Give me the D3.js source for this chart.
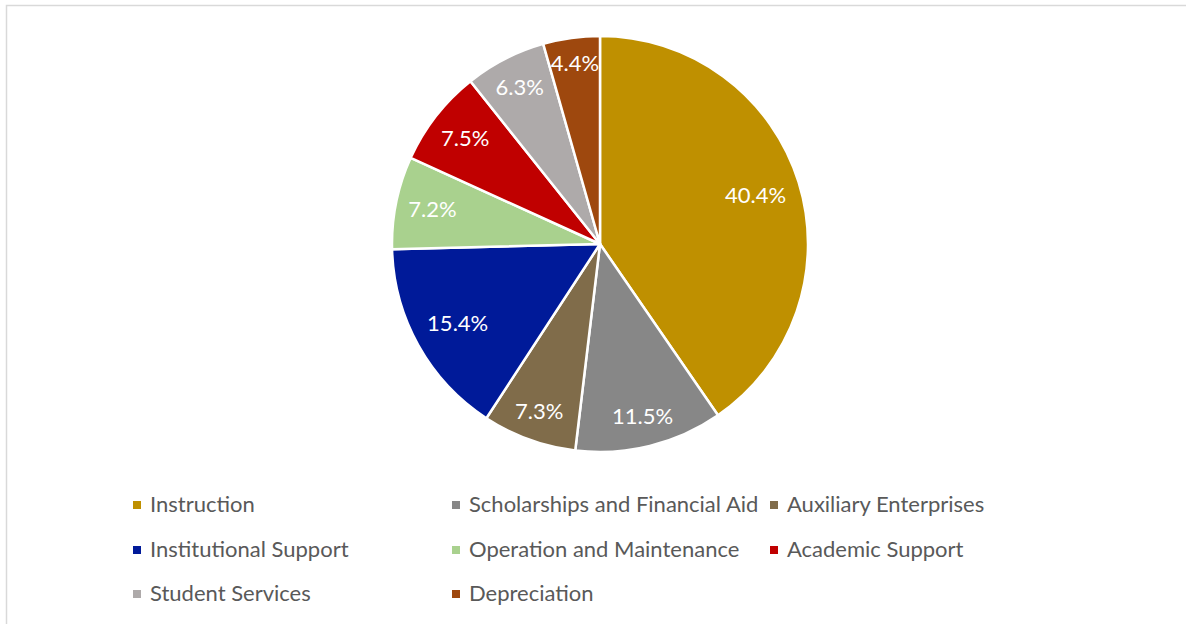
<!DOCTYPE html>
<html>
<head>
<meta charset="utf-8">
<script src="https://cdn.jsdelivr.net/npm/d3@7"></script>
<style>
  html, body { margin: 0; padding: 0; background: #fff; }
  svg { display: block; }
  text { font-family: Lato, "Open Sans", sans-serif; }
</style>
</head>
<body>
<svg id="chart" width="1186" height="624"></svg>
<script>
// Expense categories, in clockwise order from 12 o'clock
const categories = [
  "Instruction",
  "Scholarships and Financial Aid",
  "Auxiliary Enterprises",
  "Institutional Support",
  "Operation and Maintenance",
  "Academic Support",
  "Student Services",
  "Depreciation"
];
// Share of total expenses, percent
const shares = [40.4, 11.5, 7.3, 15.4, 7.2, 7.5, 6.3, 4.4];
const sliceColors = [
  "#BF9000", "#878787", "#806C4A", "#001A99",
  "#A9D18E", "#C00000", "#AEAAAA", "#9E480E"
];

const W = 1186, H = 624;
const cx = 600, cy = 244, R = 208;
const svg = d3.select("#chart");

// Chart area outline
svg.append("rect")
  .attr("x", 6.5).attr("y", 5.5)
  .attr("width", W + 10).attr("height", H + 10)
  .attr("fill", "none")
  .attr("stroke", "#D9D9D9")
  .attr("stroke-width", 1.5);

const data = categories.map((c, i) => ({ name: c, value: shares[i], color: sliceColors[i] }));

const pie = d3.pie().value(d => d.value).sort(null);
const arcs = pie(data);
const arc = d3.arc().innerRadius(0).outerRadius(R);

const g = svg.append("g").attr("transform", `translate(${cx},${cy})`);

g.selectAll("path.slice")
  .data(arcs)
  .join("path")
  .attr("class", "slice")
  .attr("d", arc)
  .attr("fill", d => d.data.color)
  .attr("stroke", "#fff")
  .attr("stroke-width", 2.5)
  .attr("stroke-linejoin", "round");

// Data labels: pushed outward along the slice bisector until the text box
// nearly touches the rim, capped for the wide slices.
const fmt = v => v.toFixed(1) + "%";
const labels = g.selectAll("text.lbl")
  .data(arcs)
  .join("text")
  .attr("class", "lbl")
  .attr("fill", "#fff")
  .attr("font-size", 22)
  .attr("text-anchor", "middle")
  .attr("dominant-baseline", "central")
  .text(d => fmt(d.data.value));

labels.each(function (d) {
  const w = this.getComputedTextLength();
  const h = 19;
  const a = (d.startAngle + d.endAngle) / 2;
  const ux = Math.sin(a), uy = -Math.cos(a);
  const frac = d.endAngle - d.startAngle;
  let t = R * 0.5;
  const limit = R - 11;
  const cap = frac > 0.12 * 2 * Math.PI ? R * 0.78 : R;
  while (t < cap) {
    const x = ux * (t + 1), y = uy * (t + 1);
    const fx = x + Math.sign(ux) * w / 2, fy = y + Math.sign(uy) * h / 2;
    if (Math.hypot(fx, fy) > limit) break;
    t += 1;
  }
  d3.select(this).attr("x", ux * t).attr("y", uy * t - 1);
});

// Legend: three columns, three rows
const colX = [133, 452, 770];
const rowY = [505, 550, 594];
const legend = svg.selectAll("g.leg")
  .data(data)
  .join("g")
  .attr("class", "leg")
  .attr("transform", (d, i) => `translate(${colX[i % 3]},${rowY[Math.floor(i / 3)]})`);

legend.append("rect")
  .attr("x", 0).attr("y", -4)
  .attr("width", 8).attr("height", 8)
  .attr("fill", d => d.color);

legend.append("text")
  .attr("x", 17).attr("y", -1.5)
  .attr("dominant-baseline", "central")
  .attr("font-size", 22)
  .attr("fill", "#595959")
  .text(d => d.name);
</script>
</body>
</html>
